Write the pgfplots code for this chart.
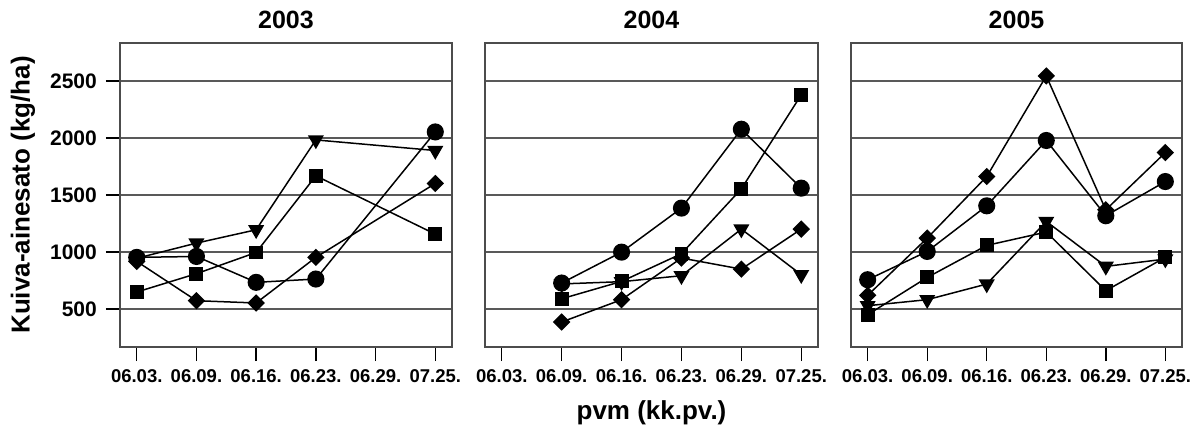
\documentclass[border=0pt]{standalone}
\usepackage{fontspec}
\setmainfont{Liberation Sans}
\usepackage{pgfplots}
\pgfplotsset{compat=1.18}

\pgfplotsset{
  panel/.style={
    scale only axis, width=332bp, height=304bp,
    anchor=south west,
    xmin=-0.28, xmax=5.28, ymin=167, ymax=2833,
    xtick={0,...,5},
    xticklabels={06.03.,06.09.,06.16.,06.23.,06.29.,07.25.},
    ytick={500,1000,1500,2000,2500},
    ymajorgrids,
    grid style={black!65, line width=1.4bp},
    axis line style={black!70, line width=1.4bp},
    tick align=outside, xtick pos=bottom, ytick pos=left,
    major tick length=14bp,
    every tick/.style={black, line width=1.4bp},
    /pgf/number format/assume math mode=true,
    /pgf/number format/1000 sep={},
    xticklabel style={font=\fontsize{18.5bp}{21bp}\selectfont\bfseries,
      anchor=base, inner sep=0pt, yshift=-21bp},
    yticklabel style={font=\fontsize{21bp}{23bp}\selectfont\bfseries,
      anchor=east, inner sep=0pt, xshift=-9bp},
    title style={font=\fontsize{25bp}{28bp}\selectfont\bfseries,
      at={(0.5,1)}, anchor=base, yshift=9bp, inner sep=0pt},
    label style={font=\fontsize{26bp}{28bp}\selectfont\bfseries},
    every axis plot/.append style={black, line width=1.5bp},
  },
  noy/.style={yticklabels={}, ytick style={draw=none}},
  circ/.style={mark=*, mark size=7.8bp},
  sq/.style={mark=square*, mark size=6.2bp},
  dia/.style={mark=square*, mark size=5.4bp, mark options={rotate=45}},
  tri/.style={mark=triangle*, mark size=7.8bp, mark options={rotate=180}},
}

\begin{document}
\begin{tikzpicture}
% 2003
\begin{axis}[panel, at={(120bp,78bp)}, title={2003},
  ylabel={Kuiva-ainesato (kg/ha)},
  ylabel style={at={([xshift=-97bp]axis description cs:0,0.5)}, anchor=center}]
\addplot[circ] coordinates {(0,953) (1,961) (2,734) (3,763) (5,2053)};
\addplot[tri]  coordinates {(0,945) (1,1078) (2,1195) (3,1983) (5,1890)};
\addplot[sq]   coordinates {(0,649) (1,810) (2,996) (3,1668) (5,1157)};
\addplot[dia]  coordinates {(0,918) (1,573) (2,553) (3,953) (5,1601)};
\end{axis}
% 2004
\begin{axis}[panel, noy, at={(485bp,78bp)}, width=333bp, title={2004},
  xlabel={pvm (kk.pv.)},
  xlabel style={at={(axis description cs:0.5,0)}, anchor=base, yshift=-72bp}]
\addplot[tri]  coordinates {(1,720) (2,740) (3,792) (4,1201) (5,801)};
\addplot[dia]  coordinates {(1,386) (2,582) (3,947) (4,850) (5,1201)};
\addplot[sq]   coordinates {(1,590) (2,742) (3,985) (4,1554) (5,2378)};
\addplot[circ] coordinates {(1,728) (2,999) (3,1385) (4,2077) (5,1560)};
\end{axis}
% 2005
\begin{axis}[panel, noy, at={(851bp,78bp)}, width=331bp, title={2005}]
\addplot[dia]  coordinates {(0,620) (1,1122) (2,1662) (3,2544) (4,1370) (5,1872)};
\addplot[circ] coordinates {(0,757) (1,1005) (2,1405) (3,1978) (4,1318) (5,1618)};
\addplot[sq]   coordinates {(0,450) (1,777) (2,1058) (3,1175) (4,661) (5,953)};
\addplot[tri]  coordinates {(0,529) (1,582) (2,719) (3,1268) (4,874) (5,938)};
\end{axis}
\pgfresetboundingbox
\path[use as bounding box] (0,0) rectangle (1193bp,425bp);
\end{tikzpicture}
\end{document}
